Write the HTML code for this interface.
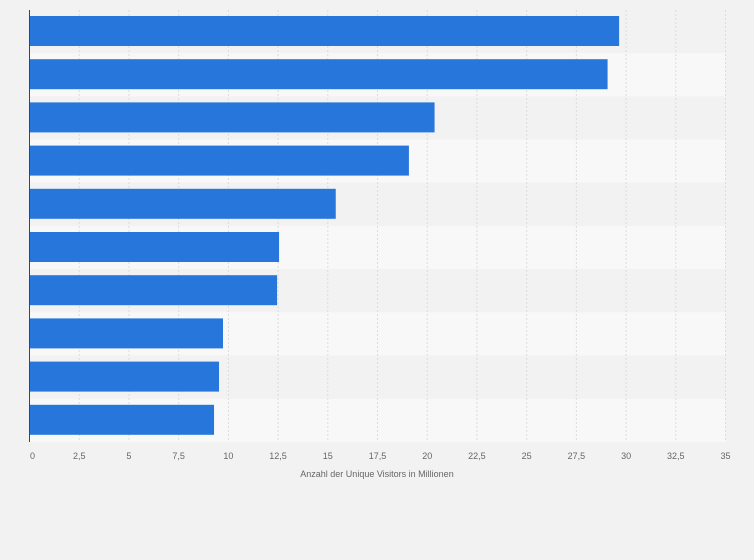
<!DOCTYPE html>
<html><head><meta charset="utf-8"><style>
html,body{margin:0;padding:0;background:#f2f2f2;}
svg{display:block;font-family:"Liberation Sans",sans-serif;}
</style></head><body>
<svg id="chart" width="754" height="560" viewBox="0 0 754 560"></svg>
<script>
const categories=["C1","C2","C3","C4","C5","C6","C7","C8","C9","C10"];
const values=[29.65,29.07,20.37,19.08,15.4,12.55,12.45,9.73,9.53,9.28];
const ticks=[0,2.5,5,7.5,10,12.5,15,17.5,20,22.5,25,27.5,30,32.5,35];
const tickLabels=["0","2,5","5","7,5","10","12,5","15","17,5","20","22,5","25","27,5","30","32,5","35"];
const NS="http://www.w3.org/2000/svg";
const svg=document.getElementById('chart');
const x0=29.5,x1=725.5,plotTop=10,plotBottom=442,maxV=35;
const xs=v=>x0+(v/maxV)*(x1-x0);
const band=(plotBottom-plotTop)/categories.length;
function mk(t,a){const e=document.createElementNS(NS,t);for(const k in a)e.setAttribute(k,a[k]);svg.appendChild(e);return e;}
categories.forEach((c,i)=>{
  const r=mk('rect',{x:x0,y:plotTop+i*band,width:x1-x0,height:band,fill:i%2?'#f8f8f8':'#f2f2f2'});
  
  
});
ticks.forEach((t,i)=>{
  const l=mk('line',{x1:xs(t),x2:xs(t),y1:plotTop,y2:plotBottom,stroke:'#dcdcdc','stroke-dasharray':'2,2','stroke-width':1});
  
  
  const tx=mk('text',{x:xs(t)+(i==0?3:0),y:459,'font-size':9,fill:'#666','text-anchor':'middle'});
  tx.textContent=tickLabels[i];
  
  
});
values.forEach((v,i)=>{
  const r=mk('rect',{x:x0,y:plotTop+i*band+6,width:xs(v)-x0,height:30,fill:'#2776dc'});
  
  
});
const ax=mk('line',{x1:x0,x2:x0,y1:plotTop,y2:plotBottom,stroke:'#444','stroke-width':1});


const tt=mk('text',{x:377,y:477,'font-size':9,fill:'#666','text-anchor':'middle'});
tt.textContent='Anzahl der Unique Visitors in Millionen';


</script>
</body></html>
